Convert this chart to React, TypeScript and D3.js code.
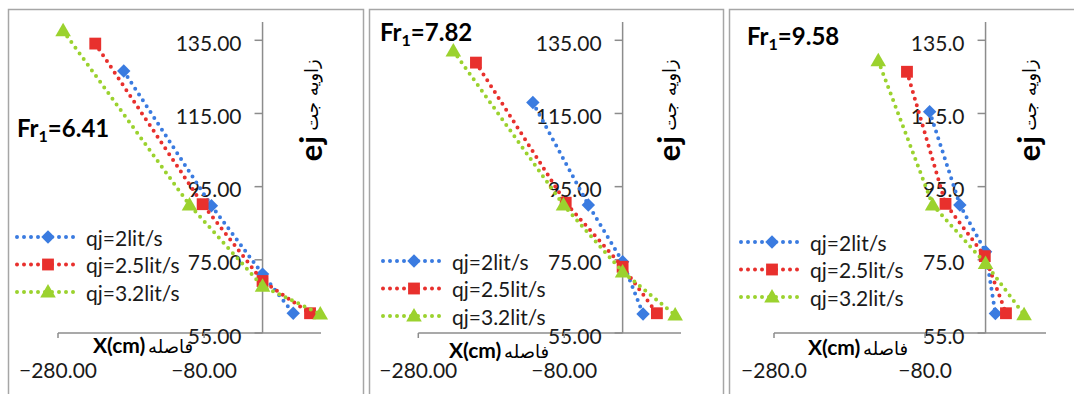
import React from 'react';
import * as d3 from 'd3';

// series labels and panel titles
const seriesNames = ['qj=2lit/s', 'qj=2.5lit/s', 'qj=3.2lit/s'];
const frValues = ['6.41', '7.82', '9.58'];
const yTicks = [55, 75, 95, 115, 135];
const xTicks = [-280, -80];

// Fr1 = 6.41
const p1BlueX = [-190, -70, 0, 42];
const p1BlueY = [126.6, 89.8, 71.1, 60.4];
const p1RedX = [-229, -82, 0, 65];
const p1RedY = [134.1, 90.2, 69.2, 60.4];
const p1GreenX = [-273, -100, 0, 79];
const p1GreenY = [137.6, 90, 67.8, 60.2];

// Fr1 = 7.82
const p2BlueX = [-123, -47, 0, 28];
const p2BlueY = [118, 90, 74.5, 60.2];
const p2RedX = [-201, -78, 0, 47];
const p2RedY = [128.9, 90.6, 73.1, 60.4];
const p2GreenX = [-232, -81, 0, 72];
const p2GreenY = [132.1, 90, 71.7, 59.9];

// Fr1 = 9.58
const p3BlueX = [-74, -34, 0, 13];
const p3BlueY = [115.5, 90, 77.2, 60.3];
const p3RedX = [-104, -53, -1, 27];
const p3RedY = [126.4, 90.3, 76, 60.4];
const p3GreenX = [-142, -70, 0, 51];
const p3GreenY = [129.4, 90, 74, 60];

const colors = ['#3a7be0', '#e8302d', '#9bd22e'];
const FONT = 'Lato, "Open Sans", sans-serif';
const AR_FONT = '"DejaVu Sans", sans-serif';

const zip = (xs: number[], ys: number[]) => xs.map((x, i) => [x, ys[i]] as [number, number]);

const panelData = [
  [zip(p1BlueX, p1BlueY), zip(p1RedX, p1RedY), zip(p1GreenX, p1GreenY)],
  [zip(p2BlueX, p2BlueY), zip(p2RedX, p2RedY), zip(p2GreenX, p2GreenY)],
  [zip(p3BlueX, p3BlueY), zip(p3RedX, p3RedY), zip(p3GreenX, p3GreenY)],
];

const layouts = [
  { frameX: 8.5, frameW: 355, x0: 58, x1: 321, legend: [17, 237], fr: [17, 137], yTitleX: 310, xTitle: [93, 353], dec: 2 },
  { frameX: 369.5, frameW: 354, x0: 418.3, x1: 681, legend: [383, 261], fr: [380, 41], yTitleX: 668, xTitle: [449, 358], dec: 2 },
  { frameX: 729.5, frameW: 400, x0: 774, x1: 1046, legend: [741, 242], fr: [747, 45], yTitleX: 1028, xTitle: [808, 355], dec: 1 },
];

const symbolPath = (i: number) => {
  if (i === 0) return d3.symbol().type(d3.symbolSquare).size(90)()!;
  if (i === 1) return d3.symbol().type(d3.symbolSquare).size(140)()!;
  return d3.symbol().type(d3.symbolTriangle).size(105)()!;
};

const Marker = ({ i, x, y }: { i: number; x: number; y: number }) => (
  <path
    d={symbolPath(i)}
    fill={colors[i]}
    transform={`translate(${x},${y})${i === 0 ? ' rotate(45)' : i === 2 ? ' translate(0,1)' : ''}`}
  />
);

const DOT = { strokeWidth: 4, strokeDasharray: '0 7', strokeLinecap: 'round' as const };

const Panel = ({ idx }: { idx: number }) => {
  const L = layouts[idx];
  const x = d3.scaleLinear().domain([-280, 80]).range([L.x0, L.x1]);
  const y = d3.scaleLinear().domain([55, 140]).range([333, 22]);
  const line = d3.line<[number, number]>().x((d) => x(d[0])).y((d) => y(d[1]));
  const fmt = d3.format(`.${L.dec}f`);
  const ax = x(0);

  return (
    <g>
      <rect x={L.frameX} y={9.5} width={L.frameW} height={420} fill="#fff" stroke="#a6a6a6" strokeWidth={1.5} />
      {/* axes */}
      <line x1={L.x0} x2={L.x1} y1={y(55)} y2={y(55)} stroke="#8c8c8c" strokeWidth={1.5} />
      <line x1={ax} x2={ax} y1={y(55)} y2={y(140)} stroke="#8c8c8c" strokeWidth={1.5} />
      {yTicks.map((t) => (
        <g key={t}>
          <line x1={ax - 8} x2={ax} y1={y(t)} y2={y(t)} stroke="#8c8c8c" strokeWidth={1.5} />
          <text x={ax - 21} y={y(t) + 2} textAnchor="end" dominantBaseline="central" fontFamily={FONT} fontSize={21} fill="#1a1a1a">
            {fmt(t)}
          </text>
        </g>
      ))}
      {xTicks.map((t) => (
        <g key={t}>
          <line x1={x(t)} x2={x(t)} y1={y(55)} y2={y(55) + 5} stroke="#8c8c8c" strokeWidth={1.5} />
          <text x={x(t)} y={378} textAnchor="middle" fontFamily={FONT} fontSize={21} fill="#1a1a1a">
            {fmt(t)}
          </text>
        </g>
      ))}
      {/* series */}
      {panelData[idx].map((pts, i) => (
        <g key={i}>
          <path d={line(pts)!} fill="none" stroke={colors[i]} {...DOT} />
          {pts.map((p, j) => (
            <Marker key={j} i={i} x={x(p[0])} y={y(p[1])} />
          ))}
        </g>
      ))}
      {/* titles */}
      <text x={L.fr[0]} y={L.fr[1]} fontFamily={FONT} fontWeight="bold" fontSize={24} fill="#000">
        Fr<tspan fontSize={16} dy={5}>1</tspan>
        <tspan dy={-5}>={frValues[idx]}</tspan>
      </text>
      <text x={L.xTitle[0]} y={L.xTitle[1]} fontFamily={FONT} fontWeight="bold" fontSize={21} fill="#000">
        X(cm)
      </text>
      <text x={L.xTitle[0] + 100} y={L.xTitle[1]} textAnchor="end" fontFamily={AR_FONT} fontSize={18} fill="#000">
        فاصله
      </text>
      <text
        transform={`translate(${L.yTitleX},148) rotate(-90)`}
        textAnchor="middle"
        dominantBaseline="central"
        fontFamily={FONT}
        fontWeight="bold"
        fontSize={31}
        letterSpacing={1}
        fill="#000"
      >
        ej
      </text>
      <text
        transform={`translate(${L.yTitleX + 1},95) rotate(-90)`}
        textAnchor="middle"
        dominantBaseline="central"
        fontFamily={AR_FONT}
        fontSize={18}
        fill="#000"
      >
        زاویه جت
      </text>
      {/* legend */}
      {seriesNames.map((name, i) => {
        const ly = L.legend[1] + i * 27.5;
        const lx = L.legend[0];
        return (
          <g key={name}>
            <line x1={lx} x2={lx + 60} y1={ly} y2={ly} stroke={colors[i]} {...DOT} />
            <Marker i={i} x={lx + 31} y={ly} />
            <text x={lx + 69} y={ly} dominantBaseline="central" fontFamily={FONT} fontSize={21} fill="#1a1a1a">
              {name}
            </text>
          </g>
        );
      })}
    </g>
  );
};

export default function App() {
  return (
    <svg width={1074} height={394} style={{ position: 'absolute', left: 0, top: 0, background: '#fff' }}>
      <rect width={1074} height={394} fill="#fff" />
      {layouts.map((_, i) => (
        <Panel key={i} idx={i} />
      ))}
    </svg>
  );
}
